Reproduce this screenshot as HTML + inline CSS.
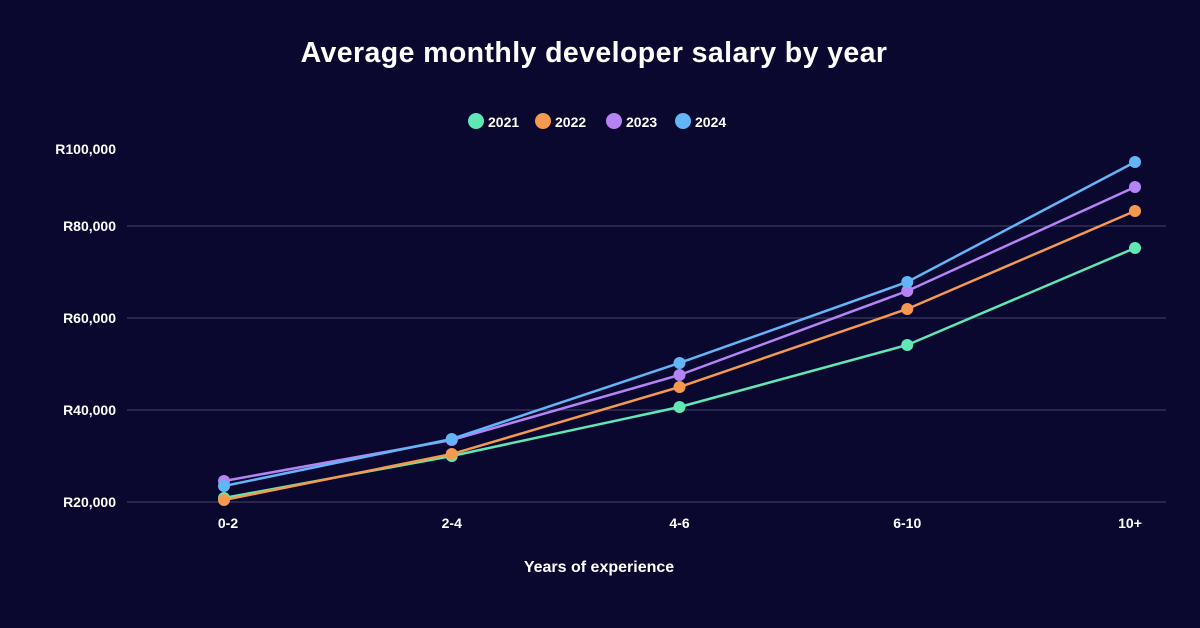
<!DOCTYPE html>
<html><head><meta charset="utf-8"><style>
html,body{margin:0;padding:0;background:#0b0830;}
svg{display:block;font-family:"Liberation Sans",sans-serif;}
</style></head><body>
<svg id="chart" width="1200" height="628" viewBox="0 0 1200 628">
<rect width="1200" height="628" fill="#0b0830"/>
<text x="594" y="62" text-anchor="middle" fill="#ffffff" font-size="28.5" font-weight="bold" letter-spacing="0.4">Average monthly developer salary by year</text>
<g id="legend"></g>
<g id="grid"></g>
<g id="yticks"></g>
<g id="xticks"></g>
<g id="series"></g>
<text x="599" y="572" text-anchor="middle" fill="#ffffff" font-size="16" font-weight="bold">Years of experience</text>
</svg>
<script>
const categories = ["0-2","2-4","4-6","6-10","10+"];
const seriesNames = ["2021","2022","2023","2024"];
const s2021 = [20870,30000,40650,54130,75220];
const s2022 = [20430,30430,45000,61960,83260];
const s2023 = [24570,33480,47610,65870,88480];
const s2024 = [23480,33700,50220,67830,93920];
const yTicks = [20000,40000,60000,80000];
const yTickLabels = ["R20,000","R40,000","R60,000","R80,000","R100,000"];

const NS="http://www.w3.org/2000/svg";
const colors=["#5fe8b4","#f39a4e","#b584f4","#62b6f7"];
const allSeries=[s2021,s2022,s2023,s2024];
function x(i){return 224+i*227.75;}
function y(v){return 502-(v-20000)*92/20000;}
function mk(tag,attrs,parent){const e=document.createElementNS(NS,tag);for(const k in attrs)e.setAttribute(k,attrs[k]);parent.appendChild(e);return e;}
const grid=document.getElementById('grid'),yt=document.getElementById('yticks'),xt=document.getElementById('xticks'),ser=document.getElementById('series'),leg=document.getElementById('legend');
yTicks.forEach((v,i)=>{
  const l=mk('line',{x1:127,x2:1166,y1:y(v),y2:y(v),stroke:"#3a3760","stroke-width":1.2},grid);
  
  
});
yTickLabels.forEach((t,i)=>{
  const yy = i<4 ? y(yTicks[i])+5 : 154;
  const e=mk('text',{x:116,y:yy,"text-anchor":"end",fill:"#fff","font-size":14,"font-weight":"bold"},yt);
  e.textContent=t;
  
  
});
categories.forEach((c,i)=>{
  const e=mk('text',{x:i==0?228:(i==4?1130:x(i)),y:528,"text-anchor":"middle",fill:"#fff","font-size":14,"font-weight":"bold"},xt);
  e.textContent=c;
  
  
});
allSeries.forEach((s,k)=>{
  const g=mk('g',{},ser);
  
  
  const p=mk('polyline',{points:s.map((v,i)=>x(i)+","+y(v)).join(" "),fill:"none",stroke:colors[k],"stroke-width":2.5},g);
  
  
  s.forEach((v,i)=>{
    const c=mk('circle',{cx:x(i),cy:y(v),r:6,fill:colors[k]},g);
    
    
  });
});
const legX=[476,543,614,683];
seriesNames.forEach((n,k)=>{
  const g=mk('g',{},leg);
  
  
  mk('circle',{cx:legX[k],cy:121,r:8,fill:colors[k]},g);
  const t=mk('text',{x:legX[k]+12,y:127,fill:"#fff","font-size":14,"font-weight":"bold"},g);
  t.textContent=n;
});
</script>
</body></html>
